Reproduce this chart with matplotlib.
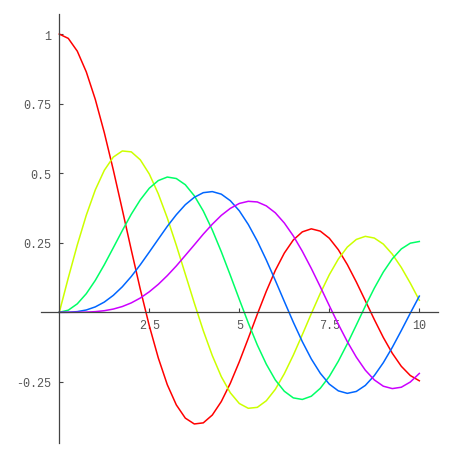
import numpy as np
import matplotlib
matplotlib.use('Agg')
import matplotlib.pyplot as plt

# sample positions, step 0.25 from 0 to 10
x = np.linspace(0, 10, 41)

# curve values (Bessel-like waves)
j0 = [1.0, 0.9844, 0.9385, 0.8640, 0.7652, 0.6458, 0.5118, 0.3690, 0.2239, 0.0829,
      -0.0484, -0.1639, -0.2601, -0.3325, -0.3801, -0.4011, -0.3971, -0.3690, -0.3205, -0.2550,
      -0.1776, -0.0931, -0.0068, 0.0758, 0.1506, 0.2129, 0.2601, 0.2892, 0.3001, 0.2918,
      0.2663, 0.2251, 0.1717, 0.1092, 0.0419, -0.0259, -0.0903, -0.1472, -0.1939, -0.2271, -0.2459]
j1 = [0.0, 0.1240, 0.2423, 0.3492, 0.4401, 0.5104, 0.5579, 0.5799, 0.5767, 0.5481,
      0.4971, 0.4258, 0.3391, 0.2411, 0.1374, 0.0334, -0.0660, -0.1554, -0.2311, -0.2890,
      -0.3276, -0.3448, -0.3414, -0.3177, -0.2767, -0.2206, -0.1538, -0.0803, -0.0047, 0.0684,
      0.1352, 0.1914, 0.2346, 0.2620, 0.2731, 0.2670, 0.2453, 0.2090, 0.1613, 0.1048, 0.0435]
j2 = [0.0, 0.0078, 0.0306, 0.0671, 0.1149, 0.1711, 0.2321, 0.2937, 0.3528, 0.4043,
      0.4461, 0.4736, 0.4862, 0.4809, 0.4586, 0.4189, 0.3641, 0.2959, 0.2178, 0.1333,
      0.0466, -0.0383, -0.1173, -0.1863, -0.2429, -0.2835, -0.3074, -0.3130, -0.3014, -0.2729,
      -0.2303, -0.1757, -0.1130, -0.0457, 0.0224, 0.0869, 0.1448, 0.1924, 0.2279, 0.2486, 0.2546]
j3 = [0.0, 0.0003, 0.0026, 0.0085, 0.0196, 0.0369, 0.0610, 0.0918, 0.1289, 0.1711,
      0.2167, 0.2631, 0.3091, 0.3508, 0.3868, 0.4134, 0.4301, 0.4339, 0.4247, 0.4013,
      0.3649, 0.3156, 0.2561, 0.1881, 0.1148, 0.0392, -0.0354, -0.1052, -0.1675, -0.2190,
      -0.2580, -0.2821, -0.2911, -0.2842, -0.2626, -0.2273, -0.1809, -0.1258, -0.0653, -0.0028, 0.0583]
j4 = [0.0, 0.0000, 0.0002, 0.0008, 0.0025, 0.0059, 0.0118, 0.0209, 0.0340, 0.0515,
      0.0739, 0.1007, 0.1320, 0.1667, 0.2045, 0.2425, 0.2811, 0.3167, 0.3485, 0.3736,
      0.3913, 0.3990, 0.3967, 0.3826, 0.3577, 0.3211, 0.2747, 0.2195, 0.1578, 0.0917,
      0.0239, -0.0427, -0.1053, -0.1610, -0.2078, -0.2428, -0.2654, -0.2740, -0.2691, -0.2503, -0.2196]

series = [j0, j1, j2, j3, j4]
colors = ['#ff0000', '#ccff00', '#00ff66', '#0066ff', '#cc00ff']

xticks = [2.5, 5, 7.5, 10]
xtick_labels = ['2.5', '5', '7.5', '10']
yticks = [-0.25, 0.25, 0.5, 0.75, 1]
ytick_labels = ['-0.25', '0.25', '0.5', '0.75', '1']

fig = plt.figure(figsize=(4.6, 4.6), dpi=100)
ax = fig.add_axes([0, 0, 1, 1])

for vals, c in zip(series, colors):
    ax.plot(x, vals, color=c, lw=1.1)

# mathematica style axes crossing at origin
ax.set_xlim(-1.647, 11.13)
ax.set_ylim(-0.527, 1.126)
for s in ['top', 'right']:
    ax.spines[s].set_visible(False)
ax.spines['left'].set_position(('data', 0))
ax.spines['bottom'].set_position(('data', 0))
ax.spines['left'].set_bounds(-0.47, 1.072)
ax.spines['bottom'].set_bounds(-0.52, 10.52)
for s in ['left', 'bottom']:
    ax.spines[s].set_color('#444444')
    ax.spines[s].set_linewidth(0.9)

ax.set_xticks(xticks)
ax.set_xticklabels(xtick_labels)
ax.set_yticks(yticks)
ax.set_yticklabels(ytick_labels)
ax.tick_params(direction='in', length=3, width=0.8, color='#444444',
               labelsize=8.5, labelcolor='#555555')
ax.tick_params(axis='x', pad=5)
ax.tick_params(axis='y', pad=6)
for lab in ax.get_xticklabels() + ax.get_yticklabels():
    lab.set_family('Liberation Mono')
ax.patch.set_visible(False)

fig.savefig('out.png', dpi=100, facecolor='white')
